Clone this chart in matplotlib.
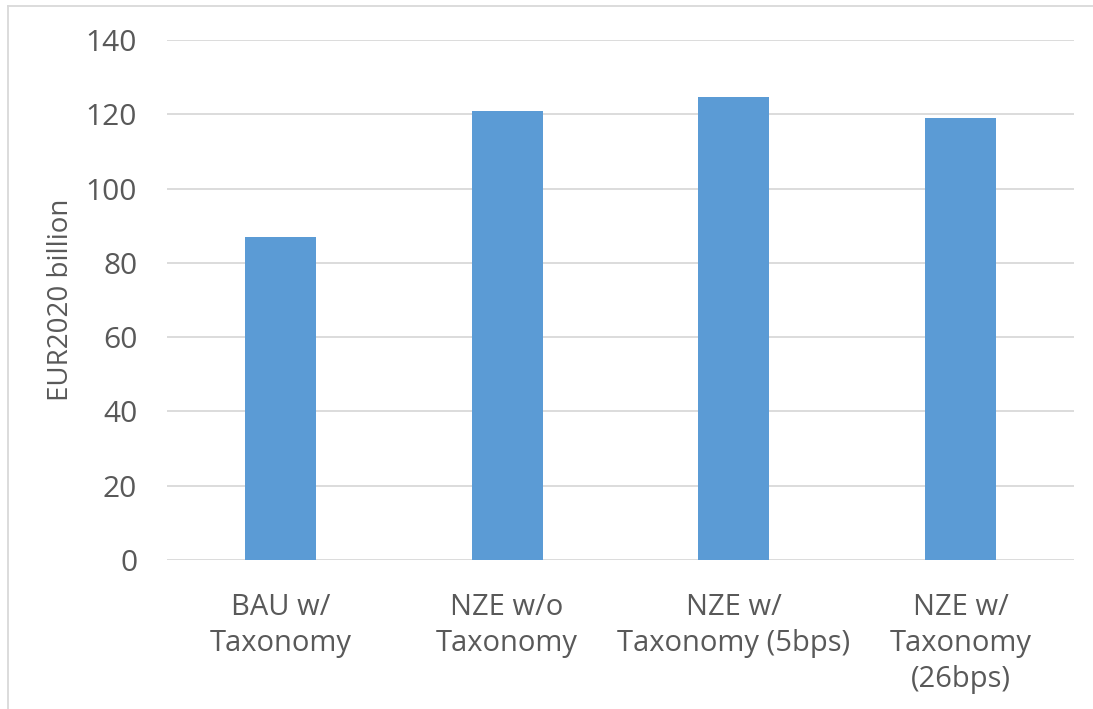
import matplotlib
matplotlib.use("Agg")
import matplotlib.pyplot as plt
from matplotlib.lines import Line2D

categories = ["BAU w/\nTaxonomy", "NZE w/o\nTaxonomy", "NZE w/\nTaxonomy (5bps)", "NZE w/\nTaxonomy\n(26bps)"]
values = [87.0, 121.0, 124.6, 119.1]
y_ticks = [0, 20, 40, 60, 80, 100, 120, 140]
y_label = "EUR2020 billion"

text_color = "#595959"
bar_color = "#5B9BD5"
grid_color = "#D9D9D9"

plt.rcParams["font.family"] = ["Open Sans", "DejaVu Sans"]

fig = plt.figure(figsize=(10.93, 7.09), dpi=100)
ax = fig.add_axes([0.1528, 0.2102, 0.8298, 0.7334])

x = list(range(len(categories)))
ax.bar(x, values, width=0.313, color=bar_color, zorder=2)

ax.set_xlim(-0.5, len(categories) - 0.5)
ax.set_ylim(0, 140)
ax.set_yticks(y_ticks)
ax.set_yticklabels([str(t) for t in y_ticks], fontsize=21.5, color=text_color)
ax.set_xticks(x)
ax.set_xticklabels(categories, fontsize=21, color=text_color, linespacing=1.3)
ax.tick_params(axis="both", length=0)
ax.tick_params(axis="y", pad=21.5)
ax.tick_params(axis="x", pad=24)

ax.grid(axis="y", color=grid_color, linewidth=1.3, zorder=0)
for s in ax.spines.values():
    s.set_visible(False)

# axis title placed close to the tick labels
fig.text(61 / 1093, 1 - 300 / 709, y_label, rotation=90, ha="center", va="center",
         fontsize=20, color=text_color)

# thin frame around the chart area (left and top edges)
fig.add_artist(Line2D([8 / 1093, 8 / 1093], [0, 1 - 6 / 709], transform=fig.transFigure,
                      color=grid_color, linewidth=1.3))
fig.add_artist(Line2D([8 / 1093, 1], [1 - 6 / 709, 1 - 6 / 709], transform=fig.transFigure,
                      color=grid_color, linewidth=1.3))

fig.savefig("out.png", dpi=100)
